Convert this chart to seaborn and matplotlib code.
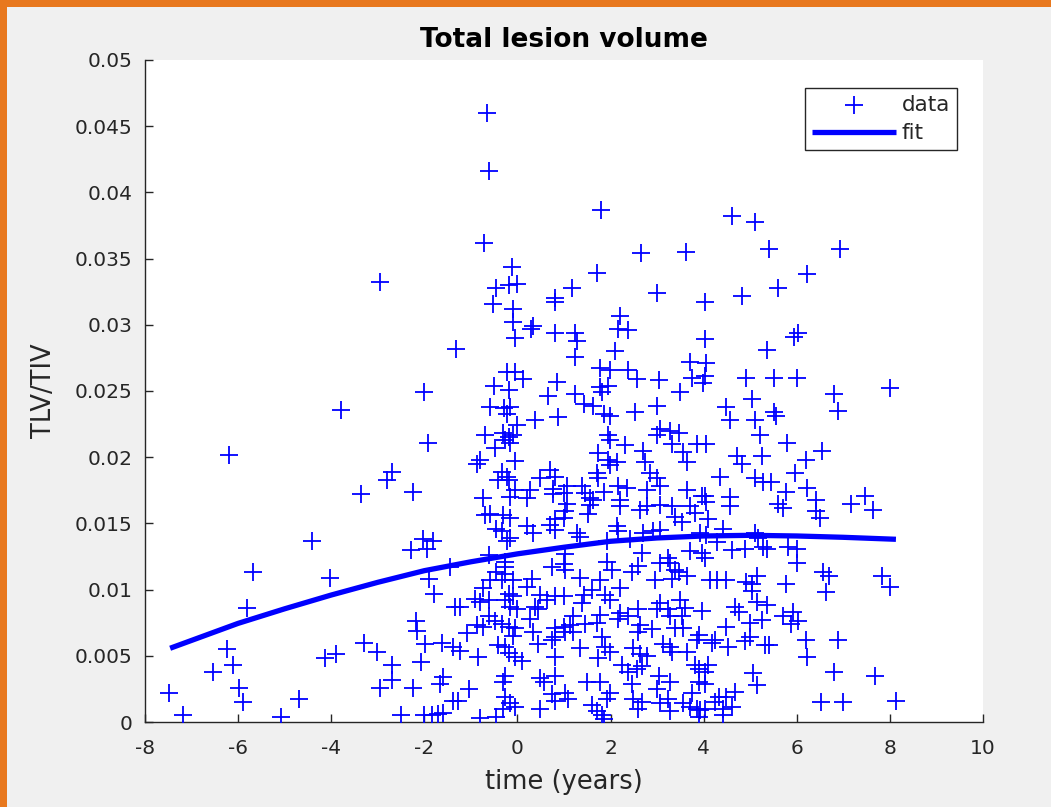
import numpy as np
import pandas as pd
import matplotlib
matplotlib.use("Agg")
import matplotlib.pyplot as plt
import seaborn as sns
from matplotlib.patches import Rectangle

# ---- measurements: time relative to onset (years) and TLV/TIV ratio ----
time_years = [
    -2.95, -1.32, -2.00, -3.79, -1.92, -6.19, -2.70, -2.80, -3.36, -2.24, -4.41, -2.03, -1.81, -2.28, -1.94,
    -5.69, -4.03, -1.89, -1.79, -1.45, -5.81, -1.34, -2.18, -2.16, -3.30, -1.98, -1.62, -1.38, -6.24, -3.02,
    -4.13, -3.90, -2.07, -6.11, -2.69, -6.54, -2.69, -1.60, -1.66, -5.98, -2.95, -2.25, -7.48, -5.90, -4.70,
    -1.38, -7.18, -5.08, -2.51, -2.00, -1.84, -1.70, -1.60,
    -0.66, -0.62, -0.71, -0.12, 1.79, 2.65, 1.70, 4.60, 5.10, 3.61,
    -0.45, -0.19, -0.02, 0.81, 0.81, -0.52, -0.09, -0.09, 0.29, 0.34, 0.81, -0.05, -0.23, -0.05, 0.13,
    -0.50, -0.19, 0.84, 0.66, -0.59, -0.28, -0.16, -0.23, 0.38, 0.88, -0.02, -0.70, -0.30, -0.19, -0.09,
    -0.27, -0.16, -0.48, -0.80, -0.87, -0.05, -0.34, -0.23, -0.41, -0.19, 0.70, 0.49, 0.81, 0.77, 0.77,
    -0.05, -0.16, -0.73, 0.27, 0.20,
    1.17, 2.99, 2.20, 2.17, 2.38, 1.24, 1.27, 1.24, 2.10, 1.77, 1.99, 2.38, 2.56, 3.03, 1.77,
    1.95, 1.81, 1.24, 1.42, 1.63, 1.85, 1.99, 2.53, 2.99, 3.06, 2.99, 1.95, 1.99, 2.31, 2.70,
    1.74, 1.95, 2.13, 1.99, 2.74, 1.70, 1.74, 2.85, 2.99, 1.06, 0.99, 1.38, 1.45, 1.85, 2.17,
    2.35, 2.78, 3.06, 1.56, 1.63, 2.20,
    4.03, 4.82, 4.03, 3.71, 4.06, 3.74, 4.03, 3.99, 4.92, 5.35, 3.49, 5.03, 4.49, 4.57, 5.10,
    3.28, 3.46, 3.31, 5.21, 3.85, 4.06, 3.56, 3.64, 4.71, 4.82, 5.25, 4.35, 5.10, 5.28, 3.64,
    3.96, 4.03, 4.57,
    -0.70, -0.59, -0.30, -0.16, -0.45, -0.34, 0.20, 0.34, -0.16, -0.23, 0.70, 0.81, 0.81, -0.62, -0.27,
    -0.27, 0.74, -0.45, -0.27, -0.59, -0.34, -0.09, 0.31, -0.73, 0.20, -0.19, -0.09, -0.27, -0.91, -0.80,
    -0.62, 0.49, 0.63, 0.81, -1.23, -0.16, -0.02, 0.38, 0.45, -0.62, -0.48, 0.27, -0.87, -0.73, -0.34,
    -0.19, -0.05, 0.81, -1.09, -0.09, 0.34, -0.41, -0.27, -0.19, 0.45, 0.74, 0.81, -1.23, -0.84, -0.05,
    0.09, 0.81, -0.27, -0.30, 0.49, 0.56, 0.81, -1.05, -1.27, -0.27, -0.16, -0.30, -0.05, 0.74, 0.81,
    0.49, -0.80, -0.45,
    1.06, 1.02, 0.99, 1.56, 1.52, 2.20, 2.63, 2.78, 3.06, 1.27, 1.34, 2.13, 2.17, 2.70, 2.92,
    3.06, 1.92, 2.42, 1.02, 0.99, 1.92, 2.03, 2.67, 3.06, 1.02, 2.45, 2.60, 1.34, 1.77, 2.96,
    2.20, 1.60, 1.42, 1.38, 1.88, 1.99, 0.99, 3.06, 2.99, 2.20, 2.17, 2.38, 2.60, 1.77, 1.70,
    1.20, 1.13, 1.45, 2.63, 2.60, 2.88, 0.99, 1.02, 1.20, 1.81, 1.88, 1.99, 1.34, 2.49, 2.63,
    2.78, 3.13, 1.74, 2.24, 2.38, 2.56, 2.67, 3.03, 1.49, 1.77, 2.45, 2.99, 1.02, 1.09, 1.99,
    1.92, 2.49, 2.67, 2.60, 3.06, 1.60, 1.70, 1.81, 1.85,
    3.31, 3.38, 3.71, 3.53, 3.81, 4.10, 4.57, 4.06, 4.42, 3.92, 4.06, 4.28, 4.60, 4.89, 5.10,
    5.17, 5.28, 3.71, 3.96, 4.03, 3.24, 3.28, 3.38, 3.46, 3.64, 3.31, 4.14, 4.28, 4.49, 4.92,
    5.03, 5.14, 5.03, 3.49, 5.14, 3.96, 4.67, 4.75, 3.24, 3.28, 3.60, 3.53, 5.25, 5.00, 4.49,
    3.38, 3.56, 3.89, 3.85, 4.24, 4.17, 5.00, 4.89, 4.53, 5.32, 3.28, 3.31, 3.64, 3.81, 3.89,
    4.03, 4.10, 5.07, 5.14, 3.28, 3.89, 4.03, 3.74, 4.67, 4.32, 4.24, 4.49, 3.24, 3.28, 3.56,
    3.71, 3.85, 3.92, 4.03, 3.89, 4.42, 4.42, 4.60,
    5.40, 6.92, 6.22, 5.59, 6.02, 5.95, 5.52, 6.00, 8.00, 6.81, 6.88, 5.52, 5.55, 5.78, 6.55,
    6.19, 5.97, 5.45, 5.77, 6.22, 6.42, 5.59, 5.70, 7.17, 7.46, 7.64, 6.42, 6.49, 5.37, 5.81,
    6.00, 6.00, 6.56, 6.70, 6.63, 7.82, 8.01, 5.76, 5.37, 5.70, 5.91, 5.88, 6.02, 5.41, 6.19,
    6.88, 6.22, 6.81, 7.67, 6.52, 6.99, 8.13,
]

tlv_tiv = [
    0.0332, 0.0282, 0.0249, 0.0236, 0.0211, 0.0202, 0.0189, 0.0183, 0.0172, 0.0174, 0.0137, 0.0138, 0.0137, 0.0130, 0.0131,
    0.0113, 0.0109, 0.0108, 0.0097, 0.0117, 0.0086, 0.0087, 0.0076, 0.0069, 0.0060, 0.0059, 0.0060, 0.0057, 0.0055, 0.0053,
    0.0048, 0.0051, 0.0045, 0.0043, 0.0043, 0.0038, 0.0032, 0.0034, 0.0029, 0.0026, 0.0026, 0.0026, 0.0022, 0.0015, 0.0017,
    0.0016, 0.0005, 0.0004, 0.0005, 0.0005, 0.0005, 0.0006, 0.0007,
    0.0460, 0.0416, 0.0362, 0.0344, 0.0387, 0.0354, 0.0339, 0.0382, 0.0378, 0.0355,
    0.0328, 0.0330, 0.0331, 0.0320, 0.0317, 0.0316, 0.0312, 0.0302, 0.0297, 0.0299, 0.0294, 0.0290, 0.0264, 0.0264, 0.0259,
    0.0254, 0.0251, 0.0257, 0.0246, 0.0238, 0.0237, 0.0238, 0.0233, 0.0228, 0.0230, 0.0224, 0.0217, 0.0218, 0.0215, 0.0217,
    0.0213, 0.0211, 0.0207, 0.0198, 0.0195, 0.0197, 0.0189, 0.0185, 0.0183, 0.0183, 0.0190, 0.0184, 0.0185, 0.0176, 0.0172,
    0.0175, 0.0170, 0.0169, 0.0175, 0.0169,
    0.0328, 0.0324, 0.0307, 0.0297, 0.0296, 0.0294, 0.0288, 0.0276, 0.0280, 0.0267, 0.0266, 0.0266, 0.0259, 0.0258, 0.0253,
    0.0254, 0.0249, 0.0248, 0.0240, 0.0239, 0.0233, 0.0231, 0.0234, 0.0239, 0.0221, 0.0217, 0.0217, 0.0213, 0.0209, 0.0205,
    0.0203, 0.0198, 0.0196, 0.0194, 0.0196, 0.0188, 0.0184, 0.0188, 0.0184, 0.0178, 0.0173, 0.0178, 0.0173, 0.0174, 0.0178,
    0.0177, 0.0175, 0.0178, 0.0169, 0.0168, 0.0168,
    0.0317, 0.0322, 0.0289, 0.0272, 0.0271, 0.0260, 0.0261, 0.0256, 0.0260, 0.0281, 0.0249, 0.0244, 0.0238, 0.0228, 0.0228,
    0.0220, 0.0218, 0.0210, 0.0217, 0.0210, 0.0210, 0.0204, 0.0196, 0.0201, 0.0195, 0.0201, 0.0185, 0.0184, 0.0181, 0.0175,
    0.0171, 0.0171, 0.0170,
    0.0156, 0.0157, 0.0156, 0.0154, 0.0146, 0.0144, 0.0148, 0.0143, 0.0139, 0.0137, 0.0149, 0.0153, 0.0145, 0.0126, 0.0121,
    0.0117, 0.0117, 0.0113, 0.0112, 0.0107, 0.0107, 0.0107, 0.0108, 0.0101, 0.0102, 0.0097, 0.0095, 0.0092, 0.0093, 0.0091,
    0.0092, 0.0096, 0.0092, 0.0095, 0.0087, 0.0087, 0.0085, 0.0087, 0.0085, 0.0080, 0.0076, 0.0078, 0.0073, 0.0072, 0.0074,
    0.0072, 0.0071, 0.0071, 0.0067, 0.0065, 0.0068, 0.0058, 0.0057, 0.0052, 0.0059, 0.0062, 0.0064, 0.0054, 0.0049, 0.0049,
    0.0046, 0.0049, 0.0035, 0.0030, 0.0033, 0.0030, 0.0035, 0.0025, 0.0016, 0.0019, 0.0014, 0.0010, 0.0011, 0.0021, 0.0016,
    0.0010, 0.0003, 0.0004,
    0.0165, 0.0159, 0.0154, 0.0164, 0.0157, 0.0163, 0.0160, 0.0163, 0.0164, 0.0143, 0.0140, 0.0148, 0.0144, 0.0143, 0.0144,
    0.0145, 0.0137, 0.0138, 0.0127, 0.0119, 0.0121, 0.0115, 0.0128, 0.0120, 0.0115, 0.0113, 0.0118, 0.0109, 0.0107, 0.0107,
    0.0101, 0.0100, 0.0096, 0.0090, 0.0096, 0.0092, 0.0095, 0.0090, 0.0085, 0.0082, 0.0078, 0.0080, 0.0085, 0.0081, 0.0075,
    0.0080, 0.0073, 0.0074, 0.0073, 0.0068, 0.0070, 0.0072, 0.0068, 0.0068, 0.0064, 0.0057, 0.0053, 0.0056, 0.0056, 0.0051,
    0.0050, 0.0059, 0.0048, 0.0043, 0.0038, 0.0040, 0.0042, 0.0035, 0.0030, 0.0030, 0.0029, 0.0025, 0.0022, 0.0017, 0.0022,
    0.0017, 0.0017, 0.0015, 0.0010, 0.0014, 0.0013, 0.0008, 0.0005, 0.0002,
    0.0163, 0.0155, 0.0163, 0.0151, 0.0158, 0.0153, 0.0163, 0.0166, 0.0146, 0.0143, 0.0141, 0.0136, 0.0130, 0.0131, 0.0143,
    0.0139, 0.0132, 0.0129, 0.0128, 0.0124, 0.0124, 0.0120, 0.0115, 0.0113, 0.0110, 0.0108, 0.0107, 0.0107, 0.0107, 0.0106,
    0.0104, 0.0110, 0.0099, 0.0092, 0.0091, 0.0084, 0.0087, 0.0083, 0.0085, 0.0080, 0.0086, 0.0080, 0.0077, 0.0075, 0.0072,
    0.0071, 0.0071, 0.0066, 0.0062, 0.0062, 0.0060, 0.0064, 0.0061, 0.0057, 0.0058, 0.0057, 0.0053, 0.0053, 0.0043, 0.0040,
    0.0038, 0.0043, 0.0037, 0.0028, 0.0030, 0.0030, 0.0029, 0.0022, 0.0023, 0.0019, 0.0015, 0.0019, 0.0017, 0.0008, 0.0014,
    0.0011, 0.0010, 0.0009, 0.0010, 0.0004, 0.0005, 0.0010, 0.0011,
    0.0357, 0.0357, 0.0338, 0.0328, 0.0294, 0.0291, 0.0260, 0.0260, 0.0252, 0.0248, 0.0235, 0.0234, 0.0231, 0.0211, 0.0205,
    0.0198, 0.0188, 0.0181, 0.0174, 0.0177, 0.0168, 0.0165, 0.0162, 0.0165, 0.0171, 0.0160, 0.0159, 0.0154, 0.0131, 0.0132,
    0.0131, 0.0120, 0.0113, 0.0110, 0.0098, 0.0110, 0.0102, 0.0104, 0.0088, 0.0080, 0.0083, 0.0074, 0.0076, 0.0058, 0.0062,
    0.0062, 0.0049, 0.0038, 0.0035, 0.0015, 0.0015, 0.0016,
]

# ---- fitted trajectory ----
fit_time = [-7.46, -6.0, -5.0, -4.0, -3.0, -2.0, -1.0, 0.0, 1.0, 2.0, 3.0, 4.0, 5.0, 6.0, 7.0, 8.13]
fit_value = [0.00557, 0.00745, 0.00855, 0.00959, 0.01055, 0.01143, 0.01210, 0.01270, 0.01320,
             0.01365, 0.01390, 0.01405, 0.01410, 0.01405, 0.01395, 0.01380]

x_ticks = [-8, -6, -4, -2, 0, 2, 4, 6, 8, 10]
y_ticks = [0, 0.005, 0.01, 0.015, 0.02, 0.025, 0.03, 0.035, 0.04, 0.045, 0.05]
x_tick_labels = ["-8", "-6", "-4", "-2", "0", "2", "4", "6", "8", "10"]
y_tick_labels = ["0", "0.005", "0.01", "0.015", "0.02", "0.025", "0.03", "0.035", "0.04", "0.045", "0.05"]

points = pd.DataFrame({"time": time_years, "ratio": tlv_tiv})
fit = pd.DataFrame({"time": fit_time, "ratio": fit_value})

sns.set_theme(style="white")
plt.rcParams["font.family"] = ["DejaVu Sans"]
plt.rcParams["axes.unicode_minus"] = False

INK = "#262626"
BLUE = "#0000ff"

fig = plt.figure(figsize=(10.51, 8.07), dpi=100, facecolor="#f0f0f0")

# orange window edge along top and left
fig.patches.append(Rectangle((0, 1 - 7 / 807), 1, 7 / 807, transform=fig.transFigure,
                             facecolor="#e8781e", edgecolor="none", zorder=0))
fig.patches.append(Rectangle((0, 0), 7 / 1051, 1, transform=fig.transFigure,
                             facecolor="#e8781e", edgecolor="none", zorder=0))

ax = fig.add_axes([145 / 1051, 1 - 722 / 807, 838 / 1051, 662 / 807])
ax.set_facecolor("white")

sns.scatterplot(data=points, x="time", y="ratio", ax=ax, marker="+", s=170,
                color=BLUE, linewidth=1.3, label="data", zorder=3)
sns.lineplot(data=fit, x="time", y="ratio", ax=ax, color=BLUE, linewidth=3.8,
             label="fit", sort=True, zorder=4, solid_capstyle="butt")

ax.set_xlim(-8, 10)
ax.set_ylim(0, 0.05)
ax.set_xticks(x_ticks)
ax.set_xticklabels(x_tick_labels)
ax.set_yticks(y_ticks)
ax.set_yticklabels(y_tick_labels)

for side in ("top", "right"):
    ax.spines[side].set_visible(False)
for side in ("left", "bottom"):
    ax.spines[side].set_color(INK)
    ax.spines[side].set_linewidth(1.0)

ax.tick_params(axis="both", direction="in", length=6, width=1.0, color=INK,
               labelcolor=INK, labelsize=14.5, left=True, bottom=True)
ax.tick_params(axis="x", pad=12)
ax.tick_params(axis="y", pad=9)

ax.set_title("Total lesion volume", fontsize=19, fontweight="bold", color="black", pad=9)
ax.set_xlabel("time (years)", fontsize=18.5, color=INK, labelpad=8)
ax.set_ylabel("TLV/TIV", fontsize=18.5, color=INK, labelpad=13)

leg = ax.legend(loc="upper right", bbox_to_anchor=(0.969, 0.958), borderaxespad=0,
                fontsize=15.5, frameon=True, fancybox=False, framealpha=1,
                edgecolor=INK, handlelength=3.9, handletextpad=0.25,
                labelspacing=0.38, borderpad=0.33)
leg.get_frame().set_linewidth(1.0)

fig.savefig("out.png", dpi=100, facecolor=fig.get_facecolor())
